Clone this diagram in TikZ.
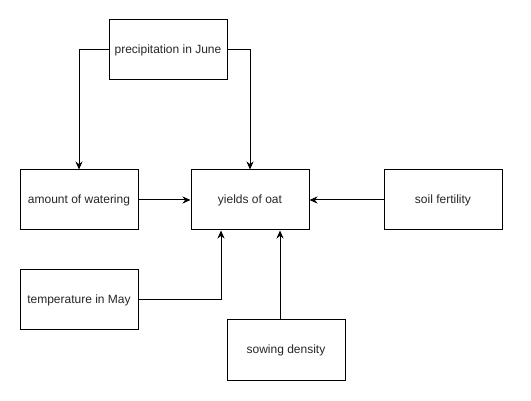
\documentclass[tikz,border=0pt]{standalone}
\usepackage{fontspec}
\setmainfont{Liberation Sans}
\usetikzlibrary{arrows.meta}
\begin{document}
\begin{tikzpicture}[x=1pt,y=-1pt]
\tikzstyle{every node}+=[inner sep=0pt]
\tikzstyle{factor}=[draw=black, line width=1pt, minimum width=118pt, minimum height=60pt, font=\fontsize{12}{14}\selectfont, text=black!85]
\tikzstyle{link}=[draw=black, line width=1pt, -{Stealth[length=8pt,width=7pt]}]
\useasboundingbox (0,0) rectangle (531,401);
\node [factor] (precip) at (168,50) {precipitation in June};
\node [factor] (water) at (79,200) {amount of watering};
\node [factor] (yield) at (250,200) {yields of oat};
\node [factor] (soil) at (443,200) {soil fertility};
\node [factor] (temp) at (79,300) {temperature in May};
\node [factor] (sowing) at (286,350) {sowing density};
\draw [link] (precip.west) -| (water.north);
\draw [link] (precip.east) -| (yield.north);
\draw [link] (water.east) -- (yield.west);
\draw [link] (soil.west) -- (yield.east);
\draw [link] (temp.east) -| ([xshift=-29pt]yield.south);
\draw [link] ([xshift=-6pt]sowing.north) -- ([xshift=30pt]yield.south);
\end{tikzpicture}
\end{document}
